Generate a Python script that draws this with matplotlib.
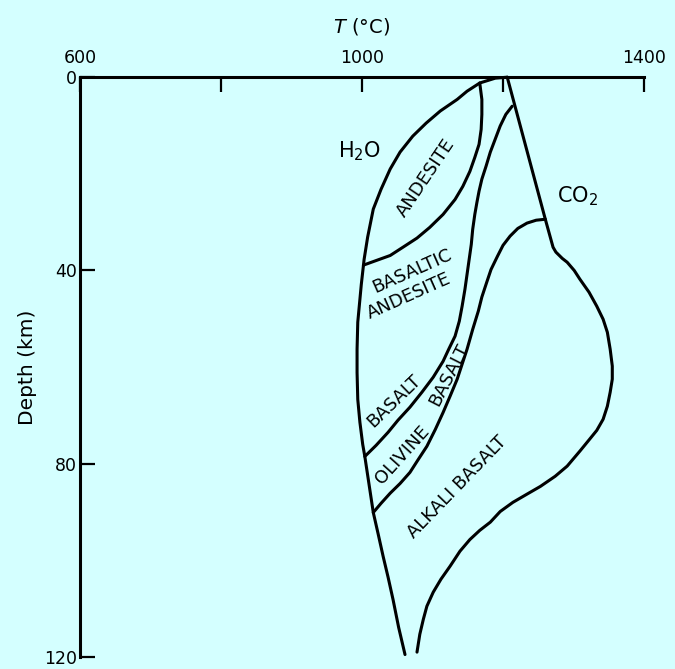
import matplotlib
matplotlib.use("Agg")
import matplotlib.pyplot as plt

BG = "#d4ffff"
INK = "black"

# boundary curves: temperature (deg C) and depth (km)
h2o_temp = [1206, 1189, 1167, 1149, 1135, 1111, 1091, 1072, 1054, 1040, 1027, 1016, 1008, 1003,
            999, 994, 993, 993, 994, 997, 1001, 1004, 1010, 1016, 1023, 1030, 1037, 1044, 1052, 1061]
h2o_depth = [0, 0.2, 1.2, 2.9, 4.6, 7.0, 9.5, 12.2, 15.5, 19.0, 23.2, 27.3, 33.1, 37.7,
             42.9, 50.7, 56.3, 61.1, 66.7, 71.4, 76.0, 78.5, 84.3, 90.1, 94.6, 99.2, 103.5, 108.1, 113.9, 119.5]

andesite_temp = [1167, 1170, 1170, 1169, 1166, 1160, 1153, 1143, 1132, 1115, 1096, 1078, 1058, 1040, 1021, 1002]
andesite_depth = [1.2, 4.6, 7.7, 10.8, 13.9, 16.6, 19.5, 22.6, 25.3, 28.4, 31.1, 33.3, 35.2, 36.9, 37.9, 38.9]

basalt_temp = [1213, 1204, 1196, 1189, 1182, 1176, 1170, 1166, 1163, 1160, 1157, 1155, 1152, 1149,
               1146, 1142, 1138, 1132, 1123, 1115, 1101, 1085, 1068, 1051, 1037, 1020, 1004]
basalt_depth = [6.0, 7.7, 10.1, 12.8, 15.5, 18.4, 21.1, 23.6, 25.9, 28.4, 31.5, 34.6, 37.7, 40.8,
                43.9, 47.4, 50.5, 53.6, 56.3, 58.8, 62.1, 65.2, 68.3, 71.0, 73.5, 76.2, 78.5]

olivine_temp = [1260, 1247, 1234, 1221, 1210, 1200, 1192, 1183, 1177, 1170, 1165, 1157, 1149,
                1142, 1135, 1125, 1115, 1104, 1092, 1079, 1068, 1054, 1040, 1027, 1016]
olivine_depth = [29.4, 29.6, 30.2, 31.3, 32.9, 34.8, 37.1, 39.8, 42.4, 45.5, 48.4, 52.2, 56.3,
                 59.4, 62.5, 66.0, 69.4, 72.9, 76.4, 79.3, 81.8, 84.1, 86.1, 88.2, 90.1]

co2_temp = [1206, 1260, 1271, 1275, 1284, 1291, 1301, 1309, 1322, 1333, 1342, 1348, 1352, 1355,
            1355, 1352, 1348, 1342, 1333, 1323, 1309, 1291, 1274, 1253, 1234, 1214, 1196, 1182,
            1167, 1153, 1139, 1125, 1112, 1101, 1092, 1087, 1082, 1078]
co2_depth = [0, 29.4, 35.2, 36.2, 37.5, 38.3, 40.0, 41.8, 44.5, 47.4, 50.1, 52.8, 56.3, 59.8,
             62.5, 65.2, 68.1, 70.8, 73.1, 74.9, 77.4, 80.5, 82.6, 84.7, 86.3, 88.0, 89.9, 92.1,
             93.8, 95.7, 98.1, 101.2, 103.9, 106.6, 109.5, 112.2, 115.3, 119.0]

# region labels: text, temperature, depth, angle
region_text = ["ANDESITE", "BASALTIC", "ANDESITE", "BASALT", "OLIVINE", "BASALT", "ALKALI BASALT"]
region_temp = [1091, 1071, 1066, 1045, 1057, 1123, 1135]
region_depth = [20.9, 40.2, 45.3, 67.1, 78.3, 61.5, 84.9]
region_angle = [56, 24, 24, 44, 48, 63, 46]

x_ticks = [600, 800, 1000, 1200, 1400]
x_labels = ["600", "", "1000", "", "1400"]
y_ticks = [0, 40, 80, 120]
y_labels = ["0", "40", "80", "120"]


def main():
    fig = plt.figure(figsize=(6.75, 6.69), dpi=100, facecolor=BG)
    ax = fig.add_axes([0.1185, 0.018, 0.8356, 0.8666])
    ax.set_facecolor(BG)

    ax.set_xlim(600, 1400)
    ax.set_ylim(120, 0)

    curves = [
        (h2o_temp, h2o_depth),
        (andesite_temp, andesite_depth),
        (basalt_temp, basalt_depth),
        (olivine_temp, olivine_depth),
        (co2_temp, co2_depth),
    ]
    for temp, depth in curves:
        ax.plot(temp, depth, color=INK, lw=2.2, solid_joinstyle="round",
                solid_capstyle="round", clip_on=False)

    for text, t, d, ang in zip(region_text, region_temp, region_depth, region_angle):
        ax.text(t, d, text, rotation=ang, rotation_mode="anchor",
                ha="center", va="center", fontsize=13, color=INK)

    ax.text(966, 15.3, "H$_2$O", ha="left", va="center", fontsize=15, color=INK)
    ax.text(1277, 24.6, "CO$_2$", ha="left", va="center", fontsize=15, color=INK)

    # axes: only top and left frame
    for side in ["right", "bottom"]:
        ax.spines[side].set_visible(False)
    for side in ["top", "left"]:
        ax.spines[side].set_linewidth(2.2)

    ax.xaxis.tick_top()
    ax.xaxis.set_label_position("top")
    ax.set_xticks(x_ticks)
    ax.set_xticklabels(x_labels)
    ax.set_yticks(y_ticks)
    ax.set_yticklabels(y_labels)
    ax.tick_params(axis="both", direction="in", length=11, width=1.6,
                   labelsize=12.5, colors=INK)
    ax.tick_params(axis="x", pad=7)
    ax.tick_params(axis="y", pad=2)

    ax.set_xlabel("$T$ (°C)", fontsize=14, labelpad=12)
    ax.set_ylabel("Depth (km)", fontsize=14.5, labelpad=5)

    fig.savefig("out.png", dpi=100, facecolor=BG)
    plt.close(fig)


if __name__ == "__main__":
    main()
